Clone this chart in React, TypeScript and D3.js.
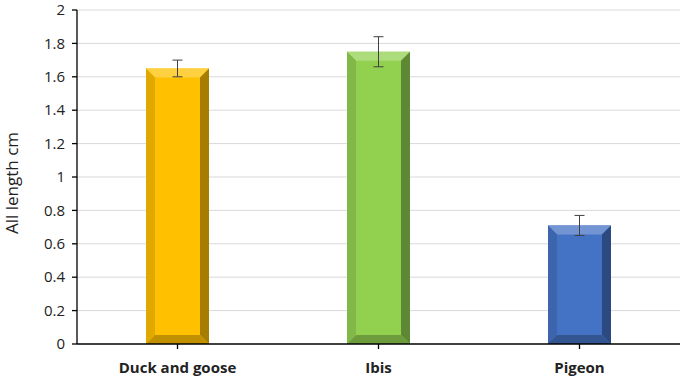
// @ts-nocheck
import React from 'react'
import * as d3 from 'd3'

const categories = ['Duck and goose', 'Ibis', 'Pigeon']
const values = [1.65, 1.75, 0.71]
const errors = [0.05, 0.09, 0.06]
const colors = ['#FFC000', '#92D050', '#4472C4']
const yTicks = [0, 0.2, 0.4, 0.6, 0.8, 1, 1.2, 1.4, 1.6, 1.8, 2]

const W = 685
const H = 378
const margin = { top: 10, right: 5, bottom: 34, left: 77 }
const font = '"Open Sans", "Liberation Sans", sans-serif'

const BevelBar = ({ x, y, w, h, color }) => {
  const b = Math.min(9, w / 4, h / 3)
  const c = d3.color(color)
  const x0 = x, x1 = x + w, y0 = y, y1 = y + h
  return (
    <g>
      <rect x={x0} y={y0} width={w} height={h} fill={color} />
      <polygon points={`${x0},${y0} ${x1},${y0} ${x1 - b},${y0 + b} ${x0 + b},${y0 + b}`} fill={d3.interpolateRgb(color, '#fff')(0.25)} />
      <polygon points={`${x0},${y0} ${x0 + b},${y0 + b} ${x0 + b},${y1 - b} ${x0},${y1}`} fill={c.darker(0.35)} />
      <polygon points={`${x1},${y0} ${x1 - b},${y0 + b} ${x1 - b},${y1 - b} ${x1},${y1}`} fill={c.darker(1.2)} />
      <polygon points={`${x0},${y1} ${x0 + b},${y1 - b} ${x1 - b},${y1 - b} ${x1},${y1}`} fill={c.darker(0.8)} />
    </g>
  )
}

export default function App() {
  const iw = W - margin.left - margin.right
  const ih = H - margin.top - margin.bottom

  const x = d3.scaleBand().domain(categories).range([0, iw])
  const y = d3.scaleLinear().domain([0, 2]).range([ih, 0])
  const bw = 63

  return (
    <svg width={W} height={H} style={{ position: 'absolute', left: 0, top: 0, background: '#fff' }}>
      <g transform={`translate(${margin.left},${margin.top})`}>
        {yTicks.slice(1).map((t) => (
          <line key={t} x1={0} x2={iw} y1={y(t)} y2={y(t)} stroke="#d9d9d9" strokeWidth={1} />
        ))}
        {categories.map((c, i) => {
          const cx = x(c) + x.bandwidth() / 2
          return (
            <BevelBar key={c} x={cx - bw / 2} y={y(values[i])} w={bw} h={y(0) - y(values[i])} color={colors[i]} />
          )
        })}
        {categories.map((c, i) => {
          const cx = x(c) + x.bandwidth() / 2
          const hi = y(values[i] + errors[i])
          const lo = y(values[i] - errors[i])
          return (
            <g key={c} stroke="#404040" strokeWidth={1}>
              <line x1={cx} x2={cx} y1={hi} y2={lo} />
              <line x1={cx - 5} x2={cx + 5} y1={hi} y2={hi} />
              <line x1={cx - 5} x2={cx + 5} y1={lo} y2={lo} />
            </g>
          )
        })}
        <line x1={0} x2={0} y1={0} y2={ih} stroke="#000" strokeWidth={1.3} />
        <line x1={0} x2={iw} y1={ih} y2={ih} stroke="#000" strokeWidth={1.3} />
        {yTicks.map((t) => (
          <g key={t}>
            <line x1={-5} x2={0} y1={y(t)} y2={y(t)} stroke="#000" strokeWidth={1.3} />
            <text x={-12} y={y(t)} dy="0.35em" textAnchor="end" fontFamily={font} fontSize={15} fill="#222">
              {t}
            </text>
          </g>
        ))}
        {categories.map((c) => {
          const cx = x(c) + x.bandwidth() / 2
          return (
            <g key={c}>
              <line x1={cx} x2={cx} y1={ih} y2={ih + 5} stroke="#000" strokeWidth={1.3} />
              <text x={cx} y={ih + 29} textAnchor="middle" fontFamily={font} fontWeight="bold" fontSize={15} fill="#222">
                {c}
              </text>
            </g>
          )
        })}
      </g>
      <text
        transform={`translate(18,${margin.top + ih / 2 + 6}) rotate(-90)`}
        textAnchor="middle"
        fontFamily={font}
        fontSize={17}
        fill="#222"
      >
        All length cm
      </text>
    </svg>
  )
}
